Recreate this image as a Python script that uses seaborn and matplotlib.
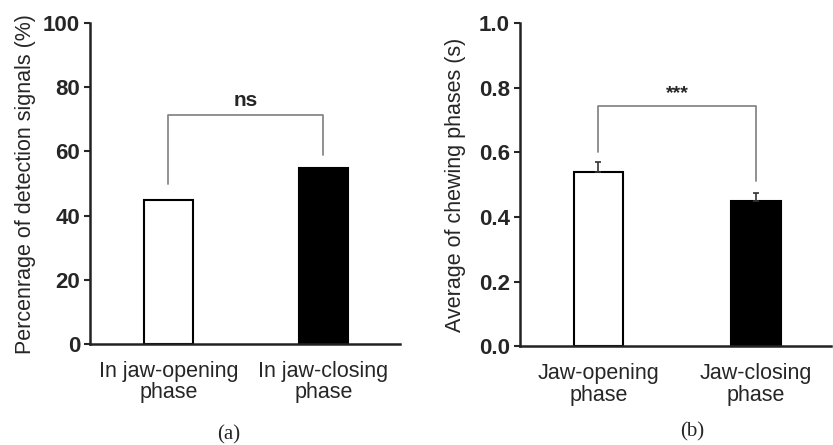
import numpy as np
import pandas as pd
import seaborn as sns
import matplotlib.pyplot as plt

# panel (a)
phases_a = ["In jaw-opening\nphase", "In jaw-closing\nphase"]
pct_signals = [45, 55]

# panel (b)
phases_b = ["Jaw-opening\nphase", "Jaw-closing\nphase"]
mean_dur = [0.54, 0.45]
sem_dur = [0.03, 0.025]

bar_colors = ["white", "black"]

sns.set_theme(style="white")
plt.rcParams['font.family'] = ['Liberation Sans', 'DejaVu Sans']

fig = plt.figure(figsize=(8.33, 4.45), dpi=100)
ax1 = fig.add_axes([0.108, 0.227, 0.372, 0.721])
ax2 = fig.add_axes([0.624, 0.222, 0.374, 0.726])

dfa = pd.DataFrame({"phase": phases_a, "value": pct_signals})
dfb = pd.DataFrame({"phase": phases_b, "value": mean_dur})

sns.barplot(data=dfa, x="phase", y="value", hue="phase", palette=bar_colors,
            edgecolor="black", linewidth=1.5, width=0.316, legend=False, ax=ax1)
sns.barplot(data=dfb, x="phase", y="value", hue="phase", palette=bar_colors,
            edgecolor="black", linewidth=1.5, width=0.316, legend=False, ax=ax2)

# upward-only error bars
ax2.errorbar([0, 1], mean_dur, yerr=[[0, 0], sem_dur], fmt="none",
             ecolor="#333333", elinewidth=1.2, capsize=2.5, capthick=1.2, zorder=1)

ax1.set_ylim(0, 100)
ax1.set_yticks([0, 20, 40, 60, 80, 100])
ax1.set_xlim(-0.506, 1.494)
ax2.set_ylim(0, 1.0)
ax2.set_yticks([0.0, 0.2, 0.4, 0.6, 0.8, 1.0])
ax2.set_yticklabels(["0.0", "0.2", "0.4", "0.6", "0.8", "1.0"])
ax2.set_xlim(-0.5, 1.48)

ax1.set_ylabel("Percenrage of detection signals (%)", fontsize=15.5)
ax2.set_ylabel("Average of chewing phases (s)", fontsize=15.5)
ax1.yaxis.set_label_coords(-0.174, 0.5)
ax2.yaxis.set_label_coords(-0.173, 0.5)

for ax in (ax1, ax2):
    ax.set_xlabel("")
    sns.despine(ax=ax)
    for s in ("left", "bottom"):
        ax.spines[s].set_linewidth(1.8)
        ax.spines[s].set_color("#222222")
    ax.tick_params(axis="y", which="both", left=True, direction="out", length=4,
                   width=1.5, labelsize=16, pad=3)
    ax.tick_params(axis="x", bottom=False, labelsize=15.5, pad=6)
    for t in ax.get_yticklabels():
        t.set_fontweight("bold")
    for t in ax.get_xticklabels():
        t.set_linespacing(1.05)

# significance brackets
br = "#888888"
ax1.plot([0, 0, 1, 1], [50, 71.3, 71.3, 59], color=br, lw=1.3, clip_on=False)
ax1.text(0.5, 73, "ns", ha="center", va="bottom", fontsize=15, fontweight="bold")
ax2.plot([0, 0, 1, 1], [0.60, 0.743, 0.743, 0.51], color=br, lw=1.3, clip_on=False)
ax2.text(0.5, 0.755, "***", ha="center", va="bottom", fontsize=14, fontweight="bold")

fig.text(0.275, 0.022, "(a)", ha="center", va="center", fontsize=15,
         family=["Liberation Serif", "DejaVu Serif"])
fig.text(0.831, 0.03, "(b)", ha="center", va="center", fontsize=15,
         family=["Liberation Serif", "DejaVu Serif"])

fig.savefig("out.png", dpi=100)
